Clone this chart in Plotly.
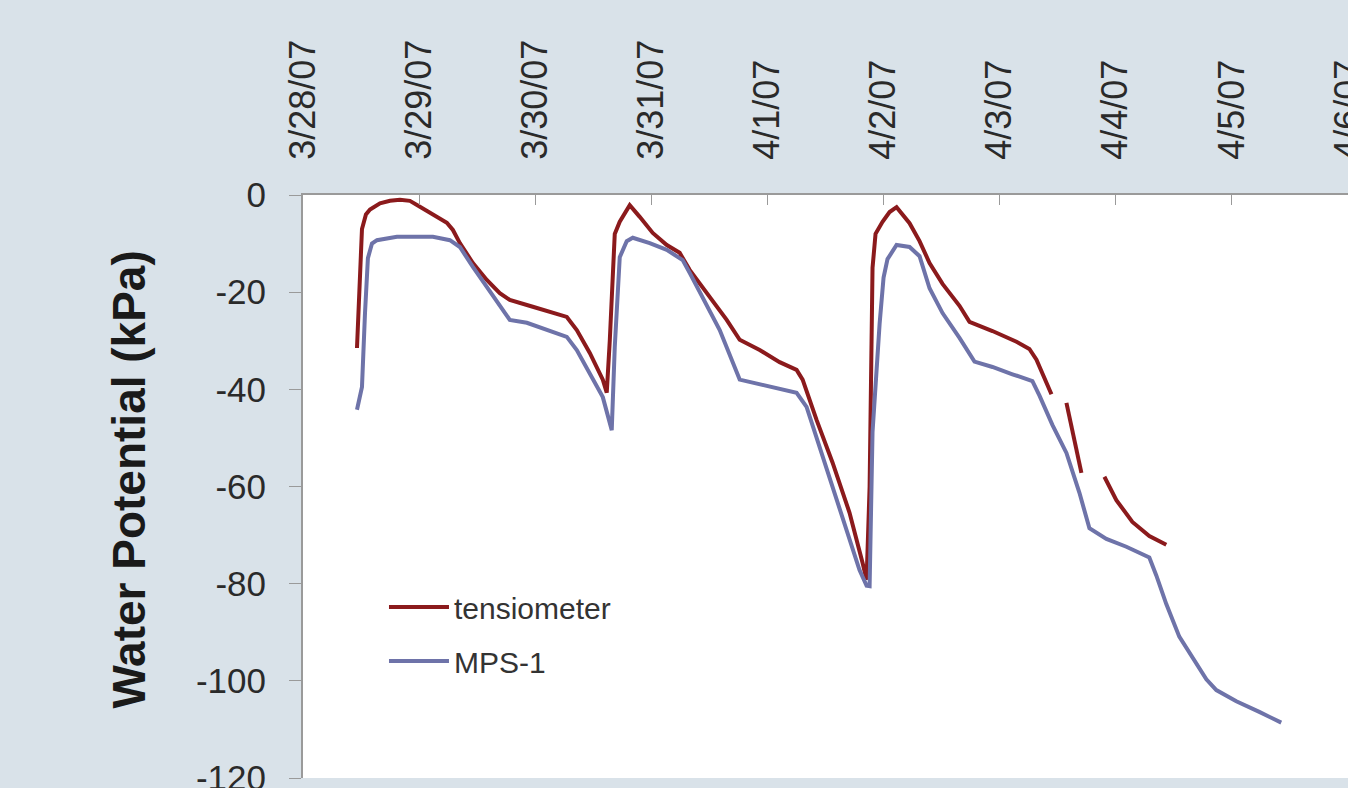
import pandas as pd
import plotly.graph_objects as go

# Days elapsed since 3/28/07 00:00 and water potential (kPa)
tens_day = [0.465, 0.482, 0.508, 0.542, 0.577, 0.663, 0.749, 0.835, 0.921, 1.007, 1.119, 1.239,
            1.291, 1.351, 1.463, 1.583, 1.695, 1.781, 1.979, 2.151, 2.272, 2.358, 2.470, 2.582,
            2.616, 2.642, 2.668, 2.685, 2.728, 2.814, 2.900, 3.012, 3.133, 3.244, 3.330, 3.502,
            3.649, 3.761, 3.933, 4.105, 4.251, 4.303, 4.423, 4.561, 4.707, 4.819, 4.854, 4.880,
            4.905, 4.931, 4.991, 5.052, 5.112, 5.224, 5.310, 5.396, 5.508, 5.654, 5.740, 5.938,
            6.145, 6.256, 6.317, 6.446,
            6.510,
            6.575, 6.627, 6.704,
            6.800,
            6.902, 7.005, 7.143, 7.289, 7.435]
tens_kpa = [-31.5, -20.0, -7.0, -4.0, -3.0, -1.7, -1.2, -1.0, -1.2, -2.4, -4.0, -5.7,
            -7.2, -9.9, -14.0, -17.5, -20.2, -21.6, -23.0, -24.3, -25.1, -27.8, -32.5, -38.0,
            -40.7, -30.0, -15.0, -8.0, -5.5, -2.1, -4.5, -7.8, -10.3, -11.9, -15.4, -21.0,
            -25.7, -29.8, -31.9, -34.4, -36.0, -38.0, -46.3, -55.1, -65.4, -75.7, -79.2, -60.0,
            -15.0, -8.0, -5.5, -3.5, -2.5, -5.8, -9.5, -14.0, -18.3, -22.8, -26.1, -28.0,
            -30.2, -31.7, -33.9, -41.0,
            None,
            -42.8, -48.8, -57.2,
            None,
            -58.0, -62.8, -67.3, -70.2, -72.0]

mps_day = [0.465, 0.491, 0.508, 0.534, 0.559, 0.594, 0.637, 0.809, 1.119, 1.265, 1.351, 1.463,
           1.583, 1.695, 1.781, 1.928, 2.100, 2.272, 2.358, 2.470, 2.582, 2.659, 2.685, 2.728,
           2.788, 2.840, 2.986, 3.133, 3.270, 3.330, 3.442, 3.589, 3.761, 3.847, 4.045, 4.251,
           4.337, 4.449, 4.561, 4.707, 4.793, 4.854, 4.880, 4.905, 4.940, 4.966, 5.000, 5.034,
           5.112, 5.224, 5.310, 5.396, 5.508, 5.654, 5.783, 5.938, 6.110, 6.282, 6.343, 6.454,
           6.575, 6.687, 6.773, 6.919, 7.091, 7.289, 7.349, 7.435, 7.547, 7.659, 7.780, 7.866,
           8.038, 8.236, 8.425]
mps_kpa = [-44.2, -41.5, -39.5, -24.3, -13.0, -10.0, -9.3, -8.6, -8.6, -9.3, -10.7, -14.8,
           -18.9, -23.0, -25.7, -26.3, -27.8, -29.2, -31.9, -36.6, -41.6, -48.4, -31.3, -12.8,
           -9.5, -8.8, -9.9, -11.3, -13.4, -16.0, -21.0, -27.8, -38.0, -38.5, -39.5, -40.7,
           -43.6, -51.9, -60.0, -71.0, -77.2, -80.4, -80.5, -48.8, -35.0, -26.5, -17.0, -13.2,
           -10.3, -10.7, -12.6, -19.2, -24.3, -29.4, -34.3, -35.4, -36.9, -38.3, -41.3, -47.3,
           -53.1, -61.3, -68.6, -70.8, -72.4, -74.6, -78.3, -84.2, -90.9, -95.3, -99.7, -101.9,
           -104.2, -106.4, -108.6]

series_names = ["tensiometer", "MPS-1"]
y_ticks = [0, -20, -40, -60, -80, -100, -120]
start_date = "2007-03-28"
end_date = "2007-04-06"

base = pd.Timestamp(start_date)
tens_t = [base + pd.to_timedelta(d, unit="D") for d in tens_day]
mps_t = [base + pd.to_timedelta(d, unit="D") for d in mps_day]

FONT = "Liberation Sans, Arial, sans-serif"

fig = go.Figure()
fig.add_trace(go.Scatter(x=tens_t, y=tens_kpa, mode="lines", name=series_names[0],
                         line=dict(color="#8B1A1C", width=4), connectgaps=False,
                         legendgroup="a"))
fig.add_trace(go.Scatter(x=mps_t, y=mps_kpa, mode="lines", name=series_names[1],
                         line=dict(color="#6E73A9", width=4), legendgroup="b"))

fig.update_layout(
    width=1348, height=788,
    margin=dict(l=303, r=0, t=195, b=10, autoexpand=False),
    paper_bgcolor="#d9e2e9",
    plot_bgcolor="#ffffff",
    font=dict(family=FONT, color="#2a2a2a"),
    showlegend=True,
    legend=dict(x=0.0775, y=0.338, xanchor="left", yanchor="top",
                bgcolor="rgba(255,255,255,0)", font=dict(size=30, family=FONT, color="#333333"),
                itemwidth=60, tracegroupgap=12, traceorder="grouped"),
    xaxis=dict(
        type="date", side="top", range=[start_date, end_date],
        tick0=start_date, dtick=86400000, tickformat="%-m/%-d/%y",
        tickangle=-90, tickfont=dict(size=36, family=FONT, color="#2a2a2a"),
        ticks="inside", ticklen=10, tickcolor="#9a9a9a", tickwidth=1,
        showline=True, linecolor="#9a9a9a", linewidth=2, mirror=False,
        showgrid=False, zeroline=False, ticklabelstandoff=26,
        ticklabeloverflow="allow", automargin=False,
    ),
    yaxis=dict(
        range=[-120, 0], tickvals=y_ticks, ticktext=[str(v) for v in y_ticks],
        tickfont=dict(size=35, family=FONT, color="#2a2a2a"),
        ticks="outside", ticklen=12, tickcolor="#9a9a9a", tickwidth=1,
        showline=True, linecolor="#9a9a9a", linewidth=2,
        showgrid=False, zeroline=False, ticklabelstandoff=16,
        ticklabeloverflow="allow", automargin=False,
    ),
    annotations=[dict(
        text="<b>Water Potential (kPa)</b>", xref="paper", yref="paper",
        x=-0.166, y=0.511, xanchor="center", yanchor="middle", textangle=-90,
        showarrow=False, font=dict(size=46, family=FONT, color="#1a1a1a"),
    )],
)

fig.write_html(
    "out.html",
    config={"displayModeBar": False},
    post_script="document.body.style.margin='0';document.body.style.overflow='hidden';"
                "document.body.style.background='#d9e2e9';",
)
